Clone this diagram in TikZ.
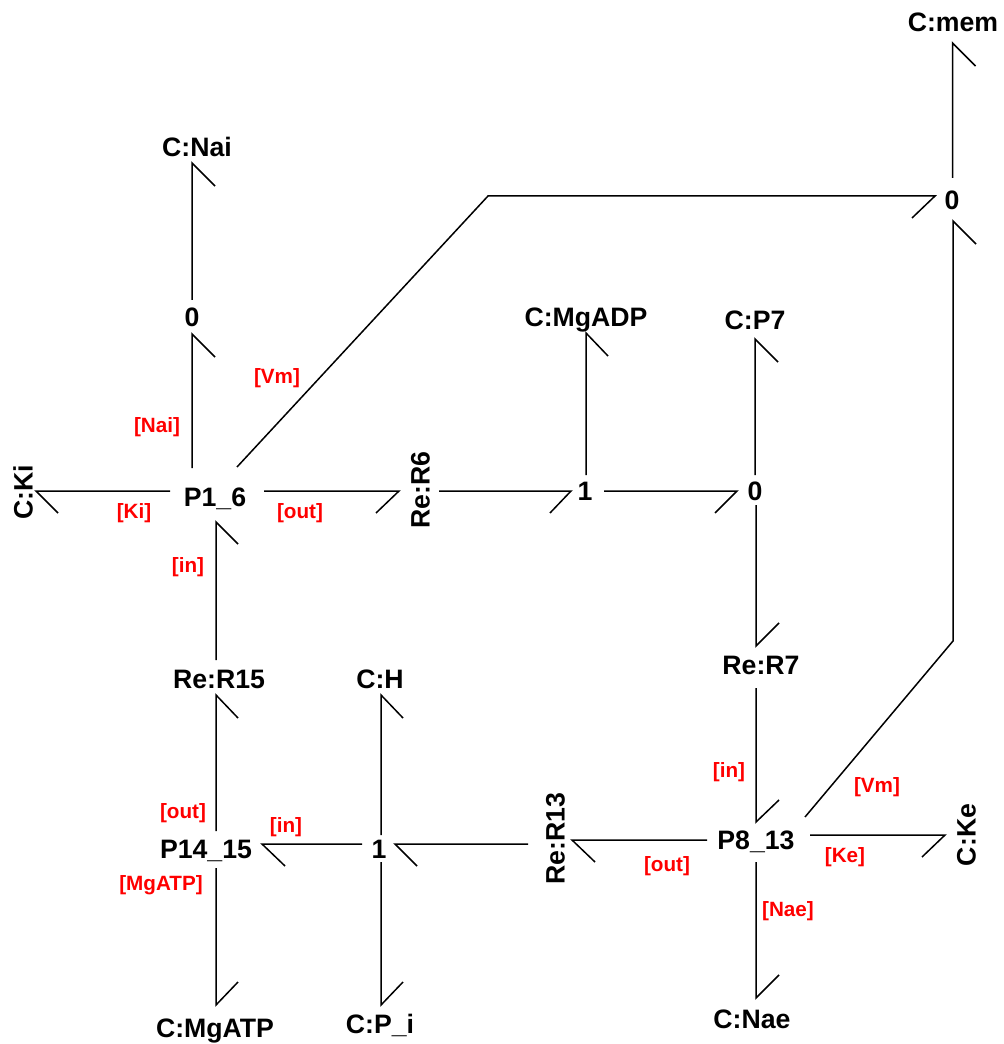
\documentclass[tikz,border=0pt]{standalone}
\usepackage{fontspec}
\setmainfont{Liberation Sans}
\newcommand{\bondline}[5]{\draw[bond] ([shift={(#2)}]#1.center) -- ([shift={(#4)}]#3.center) -- ++(#5);}
\newcommand{\bondbent}[6]{\draw[bond] ([shift={(#2)}]#1.center) -- (#3) -- ([shift={(#5)}]#4.center) -- ++(#6);}
\tikzset{
  bond/.style={draw=black,line width=1.5pt*0.75,line cap=butt,line join=miter},
  comp/.style={inner sep=0pt,font=\fontsize{20}{20}\selectfont\bfseries,text=black,text height=14.4pt,text depth=0pt},
  sig/.style={inner sep=0pt,font=\fontsize{15.5}{15.5}\selectfont\bfseries,text=red,text height=11.2pt,text depth=0pt},
}
\begin{document}
\begin{tikzpicture}[x=0.75pt,y=-0.75pt]
\useasboundingbox[fill=white] (0,0) rectangle (1003,1044);
% components
\node[comp] (cmem) at (953,22) {C:mem};
\node[comp] (ztop) at (952,200) {0};
\node[comp] (cnai) at (197,147) {C:Nai};
\node[comp] (zleft) at (192,317) {0};
\node[comp] (cmgadp) at (586,317) {C:MgADP};
\node[comp] (cp7) at (755,320) {C:P7};
\node[comp,rotate=90] (cki) at (23,492) {C:Ki};
\node[comp] (pa) at (215,497) {P1\_6};
\node[comp,rotate=90] (rersix) at (420,490) {Re:R6};
\node[comp] (oneA) at (585,491) {1};
\node[comp] (zmid) at (755,491) {0};
\node[comp] (rerseven) at (761,665) {Re:R7};
\node[comp] (rerfifteen) at (219,679) {Re:R15};
\node[comp] (ch) at (380,679) {C:H};
\node[comp] (pc) at (206,849) {P14\_15};
\node[comp] (oneB) at (379,849) {1};
\node[comp,rotate=90] (rerthirteen) at (555,839) {Re:R13};
\node[comp] (pb) at (756,840) {P8\_13};
\node[comp,rotate=90] (cke) at (966,835) {C:Ke};
\node[comp] (cmgatp) at (215,1028) {C:MgATP};
\node[comp] (cpi) at (380,1024) {C:P\_i};
\node[comp] (cnae) at (752,1019) {C:Nae};
% bends
\coordinate (bendA) at (488,196);
\coordinate (bendB) at (953,641);
% bonds
\bondline{ztop}{0.5,-22}{cmem}{-0.5,21}{23,23}
\bondbent{pa}{22,-30}{bendA}{ztop}{-17,-4}{-23,22}
\bondbent{pb}{49,-23}{bendB}{ztop}{1,21}{23,23}
\bondline{zleft}{0,-17}{cnai}{-5,16}{23,23}
\bondline{pa}{-23,-29}{zleft}{0,17}{23,23}
\bondline{pa}{-45,-6}{cki}{13,-1}{22,22}
\bondline{pa}{49,-6}{rersix}{-21,1}{-23,22}
\bondline{rersix}{19,1}{oneA}{-14,0}{-21,22}
\bondline{oneA}{19,0}{zmid}{-18,0}{-22,22}
\bondline{oneA}{1,-16}{cmgadp}{0,16}{22,23}
\bondline{zmid}{0,-16}{cp7}{0,19}{23,23}
\bondline{zmid}{1,14}{rerseven}{-5,-19}{23,-23}
\bondline{rerseven}{-5,23}{pb}{0,-18}{23,-22}
\bondline{pb}{-49,0}{rerthirteen}{17,1}{23,22}
\bondline{rerthirteen}{-27,5}{oneB}{16,-5}{22,22}
\bondline{oneB}{-17,-5}{pc}{56,-5}{23,22}
\bondline{oneB}{2,-14}{ch}{1,16}{22,23}
\bondline{oneB}{2,13}{cpi}{1,-19}{22,-23}
\bondline{pc}{10,-18}{rerfifteen}{-3,16}{22,23}
\bondline{rerfifteen}{-3,-19}{pa}{1,25}{22,22}
\bondline{pc}{10,19}{cmgatp}{1,-23}{22,-23}
\bondline{pb}{54,-5}{cke}{-21,0}{-23,22}
\bondline{pb}{0,22}{cnae}{4,-21}{23,-23}
% signal labels
\node[sig] (lVmA) at (277,376) {[Vm]};
\node[sig] (lNai) at (157,425) {[Nai]};
\node[sig] (lKi) at (134,511) {[Ki]};
\node[sig] (lOutA) at (300,511) {[out]};
\node[sig] (lInA) at (188,565) {[in]};
\node[sig] (lOutB) at (183,811) {[out]};
\node[sig] (lInB) at (286,825) {[in]};
\node[sig] (lMg) at (161,883) {[MgATP]};
\node[sig] (lInC) at (729,770) {[in]};
\node[sig] (lVmB) at (877,785) {[Vm]};
\node[sig] (lOutC) at (667,864) {[out]};
\node[sig] (lKe) at (845,855) {[Ke]};
\node[sig] (lNae) at (788,909) {[Nae]};
\end{tikzpicture}
\end{document}
